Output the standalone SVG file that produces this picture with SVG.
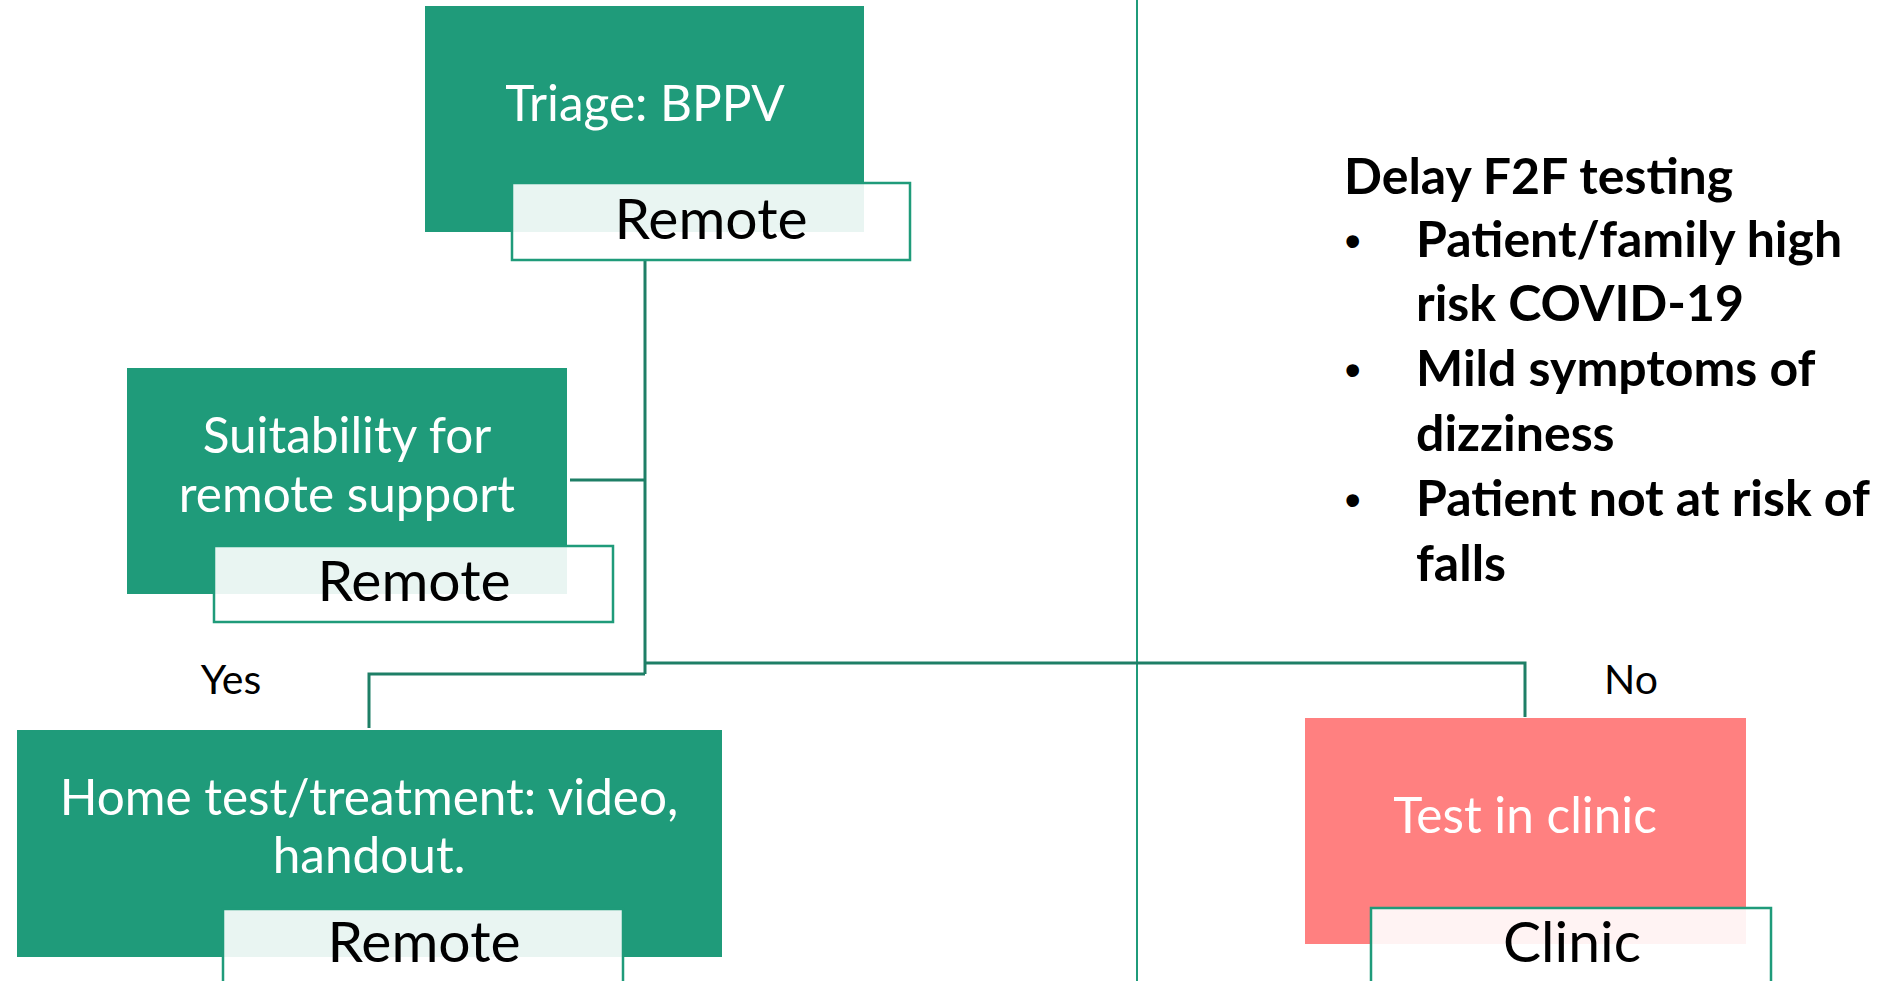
<svg xmlns="http://www.w3.org/2000/svg" width="1893" height="981" viewBox="0 0 1893 981">
  <style>
    .box { fill: #1f9b7a; }
    .box-red { fill: #ff8080; }
    .tag { fill: #ffffff; fill-opacity: 0.9; stroke: #1f9b7a; stroke-width: 2.5; }
    .main { font-family: Lato, "Open Sans", "Liberation Sans", sans-serif; font-size: 49.5px; fill: #ffffff; text-anchor: middle; }
    .tagtext { font-family: Lato, "Open Sans", "Liberation Sans", sans-serif; font-size: 57px; fill: #000000; text-anchor: middle; }
    .branch { font-family: Lato, "Open Sans", "Liberation Sans", sans-serif; font-size: 41px; fill: #000000; text-anchor: middle; }
    .note { font-family: Lato, "Open Sans", "Liberation Sans", sans-serif; font-size: 50px; font-weight: bold; fill: #000000; }
    .bullet { font-family: "Liberation Sans", sans-serif; font-size: 44px; font-weight: bold; fill: #000000; }
    .link { fill: none; stroke: #1e7f66; stroke-width: 3; }
    .divider { fill: none; stroke: #1f9b7a; stroke-width: 2; }
  </style>

  <rect width="1893" height="981" fill="#ffffff"/>

  <!-- column divider -->
  <line class="divider" x1="1137" y1="0" x2="1137" y2="981"/>

  <!-- connectors -->
  <g id="connectors">
    <polyline class="link" points="645,260 645,674"/>
    <polyline class="link" points="570,480 645,480"/>
    <polyline class="link" points="645,663 1525,663 1525,717"/>
    <polyline class="link" points="645,674 369,674 369,728"/>
  </g>

  <!-- triage -->
  <g id="triage">
    <rect class="box" x="425" y="6" width="439" height="226"/>
    <text class="main" x="645" y="121">Triage: BPPV</text>
    <rect class="tag" x="512" y="183" width="398" height="77"/>
    <text class="tagtext" x="711" y="239">Remote</text>
  </g>

  <!-- suitability -->
  <g id="suitability">
    <rect class="box" x="127" y="368" width="440" height="226"/>
    <text class="main" x="347" y="453">Suitability for</text>
    <text class="main" x="347" y="512">remote support</text>
    <rect class="tag" x="214" y="546" width="399" height="76"/>
    <text class="tagtext" x="414" y="601">Remote</text>
  </g>

  <!-- home test -->
  <g id="home">
    <rect class="box" x="17" y="730" width="705" height="227"/>
    <text class="main" x="369" y="815">Home test/treatment: video,</text>
    <text class="main" x="369" y="873">handout.</text>
    <rect class="tag" x="223" y="909" width="400" height="77"/>
    <text class="tagtext" x="424" y="962">Remote</text>
  </g>

  <!-- clinic test -->
  <g id="clinic">
    <rect class="box-red" x="1305" y="718" width="441" height="226"/>
    <text class="main" x="1525" y="833">Test in clinic</text>
    <rect class="tag" x="1371" y="908" width="400" height="78"/>
    <text class="tagtext" x="1572" y="962">Clinic</text>
  </g>

  <!-- branch labels -->
  <g id="labels">
    <text class="branch" x="231" y="694">Yes</text>
    <text class="branch" x="1631" y="694">No</text>
  </g>

  <!-- deferral criteria -->
  <g id="criteria">
    <text class="note" x="1344" y="194">Delay F2F testing</text>
    <text class="bullet" x="1345" y="256">•</text>
    <text class="note" x="1416" y="257">Patient/family high</text>
    <text class="note" x="1416" y="321">risk COVID-19</text>
    <text class="bullet" x="1345" y="385">•</text>
    <text class="note" x="1416" y="386">Mild symptoms of</text>
    <text class="note" x="1416" y="451">dizziness</text>
    <text class="bullet" x="1345" y="515">•</text>
    <text class="note" x="1416" y="516">Patient not at risk of</text>
    <text class="note" x="1416" y="581">falls</text>
  </g>
</svg>
